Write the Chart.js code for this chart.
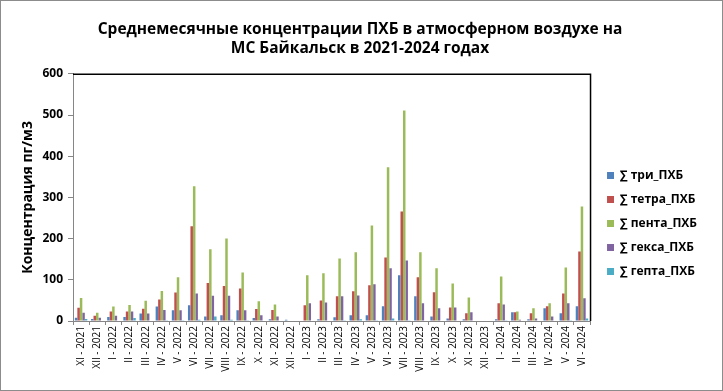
<!DOCTYPE html>
<html>
<head>
<meta charset="utf-8">
<script src="https://cdn.jsdelivr.net/npm/chart.js@4/dist/chart.umd.min.js"></script>
<style>
    body { margin: 0; background: #fff; }
    #wrap { width: 723px; height: 391px; }
</style>
</head>
<body>
<div id="wrap"><canvas id="pcb-chart" width="723" height="391"></canvas></div>
<script>
// Data
const months = [
    "XI - 2021", "XII - 2021", "I - 2022", "II - 2022", "III - 2022", "IV - 2022",
    "V - 2022", "VI - 2022", "VII - 2022", "VIII - 2022", "IX - 2022", "X - 2022",
    "XI - 2022", "XII - 2022", "I - 2023", "II - 2023", "III - 2023", "IV - 2023",
    "V - 2023", "VI - 2023", "VII - 2023", "VIII - 2023", "IX - 2023", "X - 2023",
    "XI - 2023", "XII - 2023", "I - 2024", "II - 2024", "III - 2024", "IV - 2024",
    "V - 2024", "VI - 2024",
];
const triPcb   = [8, 5, 10, 10, 18, 35, 26, 38, 11, 14, 26, 7, 4, 3, 0, 4, 9, 14, 14, 36, 111, 60, 11, 6, 4, 0, 4, 21, 4, 31, 19, 36];
const tetraPcb = [32, 13, 23, 23, 30, 52, 69, 230, 92, 85, 79, 29, 27, 0, 38, 50, 60, 72, 87, 154, 266, 106, 70, 33, 19, 0, 43, 21, 19, 36, 67, 169];
const pentaPcb = [56, 20, 35, 39, 49, 73, 106, 327, 174, 200, 118, 48, 40, 0, 111, 116, 152, 167, 232, 373, 511, 167, 128, 91, 57, 0, 108, 23, 31, 43, 130, 278];
const hexaPcb  = [20, 8, 13, 23, 18, 27, 26, 67, 61, 61, 26, 14, 11, 0, 43, 45, 60, 62, 89, 128, 147, 43, 31, 33, 21, 0, 40, 3, 6, 11, 43, 55];
const heptaPcb = [5, 1, 1, 7, 1, 2, 2, 3, 11, 3, 2, 1, 1, 0, 0, 1, 2, 4, 2, 6, 2, 1, 1, 1, 0, 0, 2, 0, 0, 1, 2, 6];
const yTicks = [0, 100, 200, 300, 400, 500, 600];

const seriesNames = ["∑ три_ПХБ", "∑ тетра_ПХБ", "∑ пента_ПХБ", "∑ гекса_ПХБ", "∑ гепта_ПХБ"];
const seriesColors = ["#4F81BD", "#C0504D", "#9BBB59", "#8064A2", "#4BACC6"];
const seriesData = [triPcb, tetraPcb, pentaPcb, hexaPcb, heptaPcb];

const fontFamily = "'Open Sans', 'DejaVu Sans', sans-serif";
const axisGray = "#868686";

// White background, outer gray frame, black top/right plot border
const framePlugin = {
    id: "frame",
    afterLayout(chart) {
        // nudge legend and title to where Excel puts them
        const lg = chart.legend;
        if (lg) {
            lg.left += 5;
            lg.right += 5;
            lg.top += 24;
            lg.bottom += 24;
        }
        const tb = chart.titleBlock;
        if (tb) {
            tb.left += 9;
            tb.right += 9;
        }
    },
    beforeDraw(chart) {
        const ctx = chart.ctx;
        ctx.save();
        ctx.fillStyle = "#fff";
        ctx.fillRect(0, 0, chart.width, chart.height);
        ctx.restore();
    },
    afterDraw(chart) {
        const ctx = chart.ctx;
        const a = chart.chartArea;
        ctx.save();
        ctx.strokeStyle = "#000";
        ctx.lineWidth = 1.5;
        ctx.beginPath();
        ctx.moveTo(a.left, a.top + 0.5);
        ctx.lineTo(a.right + 0.5, a.top + 0.5);
        ctx.lineTo(a.right + 0.5, a.bottom);
        ctx.stroke();
        ctx.strokeStyle = "#8c8c8c";
        ctx.lineWidth = 1;
        ctx.strokeRect(0.5, 0.5, chart.width - 1, chart.height - 1);
        ctx.restore();
    },
};

const ctx = document.getElementById("pcb-chart").getContext("2d");
const chart = new Chart(ctx, {
    type: "bar",
    data: {
        labels: months,
        datasets: seriesNames.map((name, i) => ({
            label: name,
            data: seriesData[i],
            backgroundColor: seriesColors[i],
            borderWidth: 0,
            categoryPercentage: 0.77,
            barPercentage: 1.0,
        })),
    },
    options: {
        responsive: false,
        animation: false,
        layout: {
            padding: { top: 8, left: 0, right: 21, bottom: 0 },
        },
        scales: {
            x: {
                grid: {
                    offset: true,
                    drawOnChartArea: false,
                    tickLength: 4,
                    color: axisGray,
                },
                border: { color: axisGray },
                ticks: {
                    autoSkip: false,
                    minRotation: 90,
                    maxRotation: 90,
                    padding: 1,
                    color: "#000",
                    font: { family: fontFamily, size: 10 },
                },
                afterFit(scale) {
                    scale.height = 70;
                },
            },
            y: {
                min: 0,
                max: 600,
                afterBuildTicks(scale) {
                    scale.ticks = yTicks.map((v) => ({ value: v }));
                },
                grid: {
                    drawOnChartArea: false,
                    tickLength: 5,
                    color: axisGray,
                },
                border: { color: axisGray },
                ticks: {
                    padding: 5,
                    color: "#000",
                    font: { family: fontFamily, size: 12, weight: "bold" },
                },
                title: {
                    display: true,
                    text: "Концентрация пг/м3",
                    color: "#000",
                    padding: { top: 20, bottom: 0 },
                    font: { family: fontFamily, size: 14, weight: "bold" },
                },
                afterFit(scale) {
                    scale.width = 73;
                },
            },
        },
        plugins: {
            title: {
                display: true,
                text: [
                    "Среднемесячные концентрации ПХБ в атмосферном воздухе на",
                    "МС Байкальск в 2021-2024 годах",
                ],
                color: "#000",
                padding: { top: 12, bottom: 16 },
                font: { family: fontFamily, size: 15.5, weight: "bold", lineHeight: 1.22 },
            },
            legend: {
                position: "right",
                labels: {
                    boxWidth: 7,
                    boxHeight: 7,
                    padding: 12,
                    color: "#000",
                    font: { family: fontFamily, size: 12, weight: "bold" },
                },
            },
            tooltip: { enabled: false },
        },
    },
    plugins: [framePlugin],
});
</script>
</body>
</html>
